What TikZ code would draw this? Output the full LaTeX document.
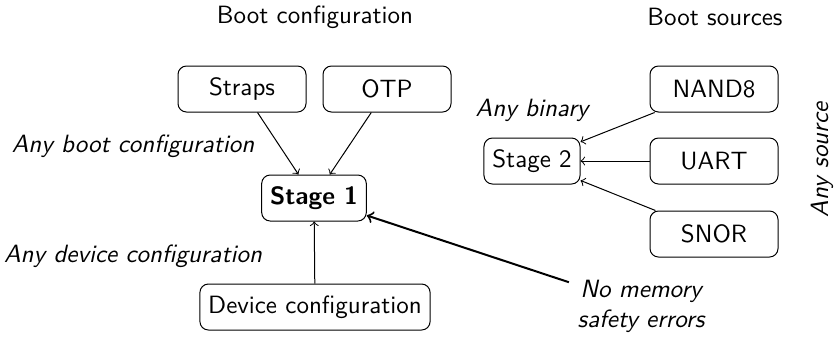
\documentclass[tikz,border=0pt]{standalone}
\begin{document}
\begin{tikzpicture}[x=0.40pt,y=-0.40pt,font=\sffamily,
  box/.style={draw,rounded corners=3.4pt,minimum height=18.4pt,inner sep=3.33pt},
  srcbox/.style={box,minimum width=51.2pt},
  lbl/.style={font=\sffamily\itshape},
  conn/.style={->},
  mainconn/.style={->,thick}]
\useasboundingbox (0,0) rectangle (837,336);
\node (t1) at (315,17) {Boot configuration};
\node (t2) at (715,17) {Boot sources};
\node[srcbox] (straps) at (242,89) {Straps};
\node[srcbox] (otp) at (387,89) {OTP};
\node[box,font=\sffamily\bfseries] (s1) at (314,198) {Stage 1};
\node[box] (dev) at (315,307) {Device configuration};
\node[box] (s2) at (532,161) {Stage 2};
\node[srcbox] (nand) at (714,89) {NAND8};
\node[srcbox] (uart) at (714,161) {UART};
\node[srcbox] (snor) at (714,234) {SNOR};
\node[lbl] (l1) at (133,146) {Any boot configuration};
\node[lbl] (l2) at (133,256) {Any device configuration};
\node[lbl] (l3) at (532,110) {Any binary};
\node[lbl,rotate=90] (l4) at (822,160) {Any source};
\node[lbl,align=center] (l5) at (641,306) {No memory\\safety errors};
\draw[conn] (straps) -- (s1);
\draw[conn] (otp) -- (s1);
\draw[conn] (dev) -- (s1);
\draw[conn] (nand) -- (s2);
\draw[conn] (uart) -- (s2);
\draw[conn] (snor) -- (s2);
\draw[mainconn] (l5) -- (s1);
\end{tikzpicture}
\end{document}
